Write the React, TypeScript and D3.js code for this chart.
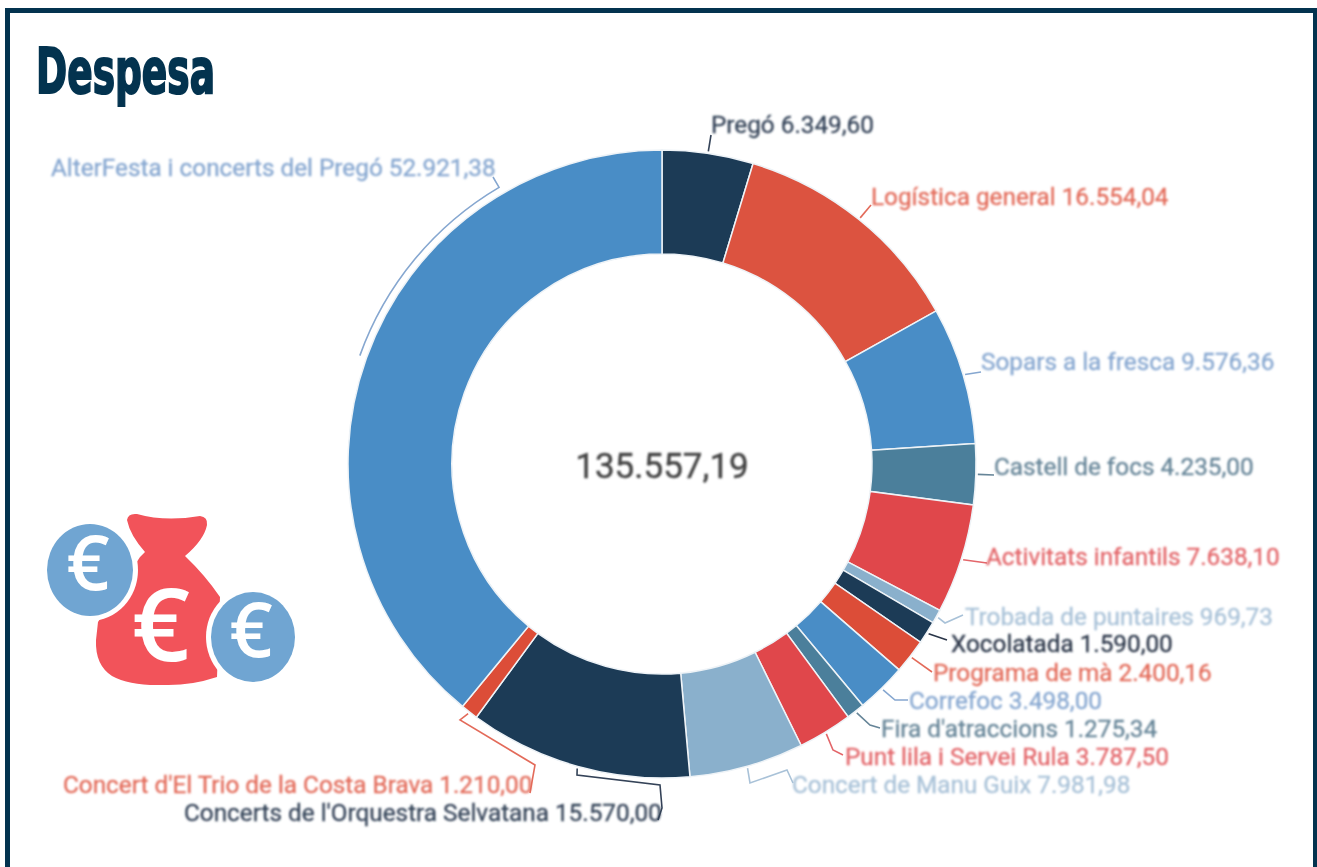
import React from "react";
import * as d3 from "d3";

const categories = ["Pregó","Logística general","Sopars a la fresca","Castell de focs","Activitats infantils","Trobada de puntaires","Xocolatada","Programa de mà","Correfoc","Fira d'atraccions","Punt lila i Servei Rula","Concert de Manu Guix","Concerts de l'Orquestra Selvatana","Concert d'El Trio de la Costa Brava","AlterFesta i concerts del Pregó"];
const values = [6349.6,16554.04,9576.36,4235,7638.1,969.73,1590,2400.16,3498,1275.34,3787.5,7981.98,15570,1210,52921.38];
const sliceColors = ["#1b3a57","#dc5340","#4a8dc6","#4b7f9b","#e0464c","#8ab0cc","#1b3a57","#dc4d38","#4a8dc6","#4b7f9b","#e0464c","#8ab0cc","#1b3a57","#dc4d38","#4a8dc6"];
const textColors = ["#344358","#e36b5a","#86a7d0","#668598","#e3666a","#a9c2d8","#2a3648","#e36b5a","#86a7d0","#668598","#e3666a","#a9c2d8","#344358","#e36b5a","#86a7d0"];

// Label placement: text start x, baseline y
const labelX = [711,871,981,994,986,965,951,933,909,881,845,792,184,63,51];
const labelY = [133,205,370,475,565,625,652,681,709,737,765,793,821,793,176];
// Leader bends after the slice's mid-angle start point
const leaderBends: [number, number][][] = [
  [[711,135]],[[871,205]],[[981,372]],[[994,475]],[[987,563]],
  [[945,623],[963,615]],[[947,640]],[[932,672]],[[895,700],[908,700]],
  [[870,725],[880,728]],[[833,750],[843,755]],[[750,783],[787,770],[793,783]],
  [[577,775],[660,785],[662,808],[658,820]],[[460,720],[535,765],[530,793]],[[493,177]],
];

const W = 1317, H = 867, cx = 662, cy = 464, R = 314, r0 = 210;
const nf = d3.formatLocale({ decimal: ",", thousands: ".", grouping: [3], currency: ["", ""] }).format(",.2f");
const FONT = "Roboto, sans-serif";
const EURO = "'Open Sans', sans-serif";

export default function App() {
  const arcs = d3.pie<number>().sort(null)(values);
  const arc = d3.arc<d3.PieArcDatum<number>>().innerRadius(r0).outerRadius(R);
  const total = d3.sum(values);
  const line = d3.line();
  const leader = (i: number) => {
    const a = (arcs[i].startAngle + arcs[i].endAngle) / 2;
    const lr = i === 14 ? R + 7 : R + 2;
    const sx = cx + lr * Math.sin(a), sy = cy - lr * Math.cos(a);
    if (i === 14) {
      const p = d3.path();
      const a1 = (329.5 * Math.PI) / 180;
      p.moveTo(sx, sy);
      p.arc(cx, cy, lr, a - Math.PI / 2, a1 - Math.PI / 2);
      leaderBends[i].forEach(([x, y]) => p.lineTo(x, y));
      return p.toString();
    }
    return line([[sx, sy], ...leaderBends[i]]) as string;
  };
  return (
    <svg width={W} height={H} style={{ position: "absolute", left: 0, top: 0, background: "#fff" }}>
      <defs>
        <filter id="soft" filterUnits="userSpaceOnUse" x="0" y="0" width={W} height={H}><feGaussianBlur stdDeviation="0.7" /></filter>
        <filter id="softer" filterUnits="userSpaceOnUse" x="0" y="0" width={W} height={H}><feGaussianBlur stdDeviation="1" /></filter>
      </defs>
      <rect x={7.5} y={10.5} width={1308} height={880} fill="#fff" stroke="#03334f" strokeWidth={5} />
      <text x={36} y={93} fontFamily="'DejaVu Sans', sans-serif" fontWeight={700} fontSize={63} fill="#03334f" stroke="#03334f" strokeWidth={2.2} textLength={179} lengthAdjust="spacingAndGlyphs">Despesa</text>

      <g filter="url(#soft)">
        <g transform={`translate(${cx},${cy})`}>
          {arcs.map((d, i) => (
            <path key={categories[i]} d={arc(d) as string} fill={sliceColors[i]} stroke="#eef3f7" strokeWidth={1.5} />
          ))}
        </g>
        {categories.map((c, i) => (
          <path key={c} d={leader(i)} fill="none" stroke={textColors[i]} strokeWidth={1.6} />
        ))}
      </g>
      <g filter="url(#softer)">
        {categories.map((c, i) => (
          <text key={c} x={labelX[i]} y={labelY[i]} fontFamily={FONT} fontSize={24.3} fill={textColors[i]} stroke={textColors[i]} strokeWidth={0.3}>
            {`${c} ${nf(values[i])}`}
          </text>
        ))}
        <text x={cx} y={478} textAnchor="middle" fontFamily={FONT} fontSize={35} fill="#444" stroke="#444" strokeWidth={0.4}>{nf(total)}</text>
      </g>

      <g filter="url(#soft)">
        <path d="M127 520 Q128 513 137 514 Q165 522 200 516 Q208 517 207 525 Q204 540 185 556 Q205 575 220 597 L217 677 Q190 686 163 685 Q130 686 112 676 Q95 665 96 640 L98 622 L140 557 L145 552 Q130 535 127 520 Z" fill="#f2525a" />
        <ellipse cx={90} cy={570} rx={48} ry={51} fill="#fff" />
        <ellipse cx={253} cy={637} rx={47} ry={50} fill="#fff" />
        <ellipse cx={90} cy={570} rx={43} ry={46} fill="#6fa5d2" />
        <ellipse cx={253} cy={637} rx={42} ry={45} fill="#6fa5d2" />
        <text x={161} y={661} textAnchor="middle" fontFamily={EURO} fontWeight={600} fontSize={102} fill="#fff">€</text>
        <text x={88} y={590} textAnchor="middle" fontFamily={EURO} fontWeight={600} fontSize={76} fill="#fff">€</text>
        <text x={251} y={657} textAnchor="middle" fontFamily={EURO} fontWeight={600} fontSize={76} fill="#fff">€</text>
      </g>
    </svg>
  );
}
